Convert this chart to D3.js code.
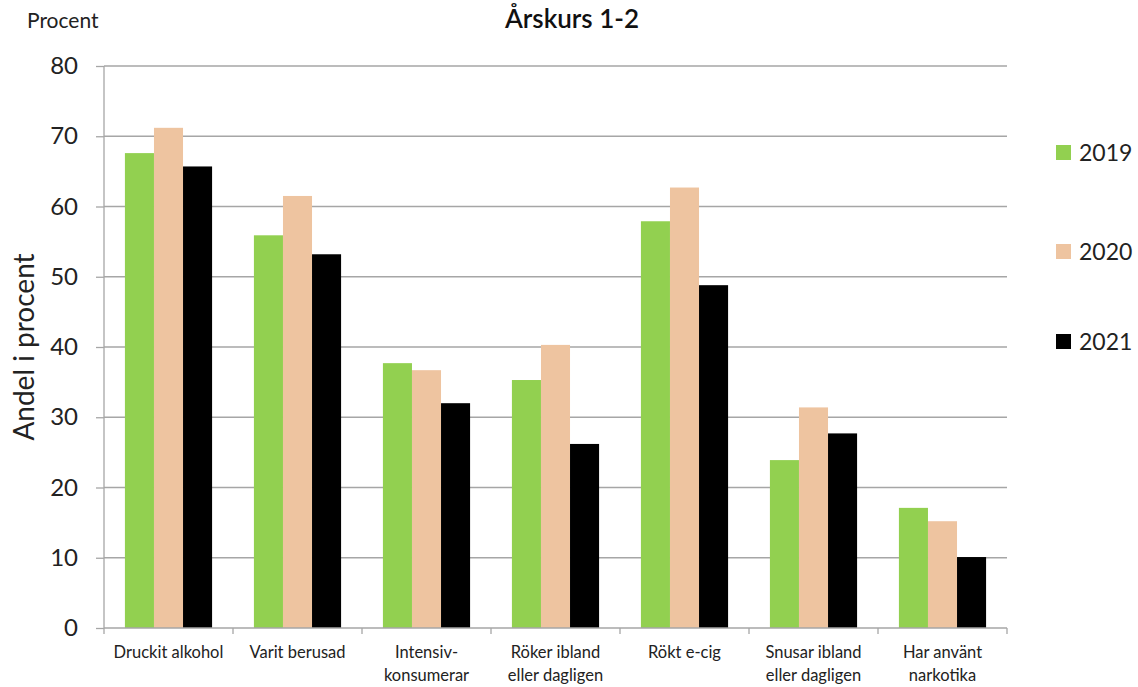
<!DOCTYPE html>
<html><head><meta charset="utf-8">
<script src="https://cdn.jsdelivr.net/npm/d3@7"></script>
<style>body{margin:0;background:#fff}svg{display:block;font-family:Lato,"Open Sans",sans-serif}</style>
</head><body><svg id="c" width="1138" height="687"></svg>
<script>
const categories = [["Druckit alkohol"],["Varit berusad"],["Intensiv-","konsumerar"],["Röker ibland","eller dagligen"],["Rökt e-cig"],["Snusar ibland","eller dagligen"],["Har använt","narkotika"]];
const years = ["2019","2020","2021"];
const v2019 = [67.6, 55.9, 37.7, 35.3, 57.9, 23.9, 17.1];
const v2020 = [71.2, 61.5, 36.7, 40.3, 62.7, 31.4, 15.2];
const v2021 = [65.7, 53.2, 32.0, 26.2, 48.8, 27.7, 10.1];
const yTicks = [0,10,20,30,40,50,60,70,80];
const colors = ["#92D050","#EEC4A0","#000000"];
const series = [v2019, v2020, v2021];

const svg = d3.select("#c");
const L=104, R=1007, T=66, B=628;
const x = d3.scaleBand().domain(d3.range(categories.length)).range([L,R]).paddingInner(0).paddingOuter(0);
const xs = d3.scaleBand().domain(years).range([0,x.bandwidth()]).paddingInner(0).paddingOuter(0.72);
const y = d3.scaleLinear().domain([0,80]).range([B,T]);

// gridlines
svg.append("g").selectAll("line").data(yTicks.filter(d=>d>0)).join("line")
  .attr("x1",L).attr("x2",R).attr("y1",d=>y(d)).attr("y2",d=>y(d))
  .attr("stroke","#a6a6a6").attr("stroke-width",1.3);

// y axis
const ya = svg.append("g").attr("transform",`translate(${L},0)`).call(d3.axisLeft(y).tickValues(yTicks).tickSize(8).tickPadding(18));
ya.select(".domain").attr("stroke","#a6a6a6").attr("stroke-width",1.3).attr("d",`M0,${T}V${B}`);
ya.selectAll(".tick line").attr("stroke","#a6a6a6").attr("stroke-width",1.3);
ya.selectAll("text").attr("font-size",24).attr("fill","#222").attr("font-family","Lato,sans-serif");

// bars
series.forEach((s,i)=>{
  svg.append("g").selectAll("rect").data(s).join("rect")
    .attr("x",(d,j)=>x(j)+xs(years[i]))
    .attr("width",xs.bandwidth())
    .attr("y",d=>y(d)).attr("height",d=>B-y(d))
    .attr("fill",colors[i]);
});

// x axis
svg.append("line").attr("x1",L).attr("x2",R).attr("y1",B).attr("y2",B).attr("stroke","#a6a6a6").attr("stroke-width",1.3);
svg.append("g").selectAll("line").data(d3.range(categories.length+1)).join("line")
  .attr("x1",d=>L+d*x.bandwidth()).attr("x2",d=>L+d*x.bandwidth())
  .attr("y1",B).attr("y2",B+6).attr("stroke","#a6a6a6").attr("stroke-width",1.3);
const lab = svg.append("g").selectAll("text").data(categories).join("text")
  .attr("x",(d,j)=>x(j)+x.bandwidth()/2).attr("y",658)
  .attr("text-anchor","middle").attr("font-size",16.5).attr("fill","#222");
lab.each(function(d){
  d3.select(this).selectAll("tspan").data(d).join("tspan")
    .attr("x",d3.select(this).attr("x")).attr("dy",(t,k)=>k===0?0:23).text(t=>t);
});

// titles
svg.append("text").attr("x",572).attr("y",28).attr("text-anchor","middle").attr("font-size",26).attr("font-weight",600).attr("fill","#111").text("Årskurs 1-2");
svg.append("text").attr("x",27).attr("y",28).attr("font-size",21).attr("fill","#222").text("Procent");
svg.append("text").attr("transform","translate(34,347) rotate(-90)").attr("text-anchor","middle").attr("font-size",28).attr("fill","#222").text("Andel i procent");

// legend
const legY = [152, 251, 341];
const lg = svg.append("g").selectAll("g").data(years).join("g").attr("transform",(d,i)=>`translate(1056,${legY[i]})`);
lg.append("rect").attr("x",0).attr("y",-7).attr("width",15).attr("height",15).attr("fill",(d,i)=>colors[i]);
lg.append("text").attr("x",23).attr("y",9).attr("font-size",23).attr("fill","#222").text(d=>d);
</script></body></html>
